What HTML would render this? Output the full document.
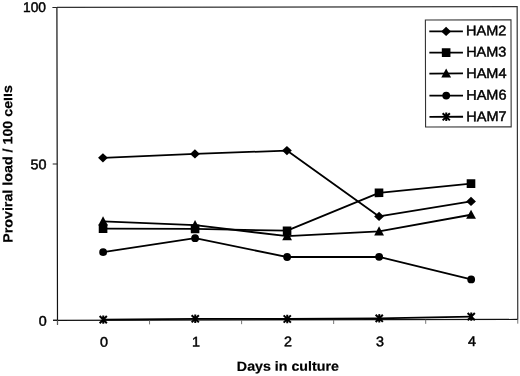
<!DOCTYPE html>
<html><head><meta charset="utf-8"><title>Proviral load</title>
<style>
html,body{margin:0;padding:0;background:#fff;}
body{width:520px;height:376px;overflow:hidden;}
svg{display:block;}
text{font-family:"Liberation Sans",Arial,Helvetica,sans-serif;fill:#000;}
.t{font-size:14px;stroke:#000;stroke-width:0.45px;}
.b{font-size:13.4px;font-weight:bold;stroke:#000;stroke-width:0.2px;}
</style></head><body>
<svg width="520" height="376" viewBox="0 0 520 376">
<rect width="520" height="376" fill="#fff"/>
<g transform="rotate(-0.11 287 188)">

<path d="M57.25 7H517.5V319.9" fill="none" stroke="#333" stroke-width="1.2"/>
<path d="M57.25 7V324.4M52.75 319.9H517.5" fill="none" stroke="#111" stroke-width="1.2"/>
<path d="M52.75 7H57.25" stroke="#222" stroke-width="1"/>
<path d="M52.75 163.45H57.25" stroke="#222" stroke-width="1"/>
<path d="M52.75 319.9H57.25" stroke="#222" stroke-width="1"/>
<path d="M57.25 319.9V324.1" stroke="#666" stroke-width="0.9"/>
<path d="M149.3 319.9V324.1" stroke="#666" stroke-width="0.9"/>
<path d="M241.35 319.9V324.1" stroke="#666" stroke-width="0.9"/>
<path d="M333.4 319.9V324.1" stroke="#666" stroke-width="0.9"/>
<path d="M425.45 319.9V324.1" stroke="#666" stroke-width="0.9"/>
<path d="M517.5 319.9V324.1" stroke="#666" stroke-width="0.9"/>
<text class="t" x="46.3" y="11.6" text-anchor="end" textLength="23" lengthAdjust="spacingAndGlyphs">100</text>
<text class="t" x="46.5" y="168.8" text-anchor="end" textLength="16" lengthAdjust="spacingAndGlyphs">50</text>
<text class="t" x="46.4" y="325.3" text-anchor="end" textLength="8" lengthAdjust="spacingAndGlyphs">0</text>
<text class="t" x="103.6" y="346.3" text-anchor="middle" textLength="8" lengthAdjust="spacingAndGlyphs">0</text>
<text class="t" x="195.6" y="346.3" text-anchor="middle" textLength="8" lengthAdjust="spacingAndGlyphs">1</text>
<text class="t" x="287.6" y="346.3" text-anchor="middle" textLength="8" lengthAdjust="spacingAndGlyphs">2</text>
<text class="t" x="379.6" y="346.3" text-anchor="middle" textLength="8" lengthAdjust="spacingAndGlyphs">3</text>
<text class="t" x="471.6" y="346.3" text-anchor="middle" textLength="8" lengthAdjust="spacingAndGlyphs">4</text>
<text class="b" x="287.5" y="370.8" text-anchor="middle" textLength="102" lengthAdjust="spacingAndGlyphs">Days in culture</text>
<text class="b" transform="translate(12.3 163.4) rotate(-90)" text-anchor="middle" textLength="157.8" lengthAdjust="spacingAndGlyphs">Proviral load / 100 cells</text>
<rect x="0" y="84" width="3.9" height="34" fill="#fff"/>
<polyline points="103,157.5 195,153.75 287,150.6 379,216.6 471,201.8" fill="none" stroke="#000" stroke-width="1.8" stroke-linejoin="round"/>
<path d="M98.1 157.5L103 152.9L107.9 157.5L103 162.1Z" fill="#000"/>
<path d="M190.1 153.75L195 149.15L199.9 153.75L195 158.35Z" fill="#000"/>
<path d="M282.1 150.6L287 146.0L291.9 150.6L287 155.2Z" fill="#000"/>
<path d="M374.1 216.6L379 212.0L383.9 216.6L379 221.2Z" fill="#000"/>
<path d="M466.1 201.8L471 197.2L475.9 201.8L471 206.4Z" fill="#000"/>
<polyline points="103,228.3 195,228.7 287,230.7 379,193.0 471,184.0" fill="none" stroke="#000" stroke-width="1.8" stroke-linejoin="round"/>
<rect x="98.7" y="224.0" width="8.6" height="8.6" fill="#000"/>
<rect x="190.7" y="224.4" width="8.6" height="8.6" fill="#000"/>
<rect x="282.7" y="226.4" width="8.6" height="8.6" fill="#000"/>
<rect x="374.7" y="188.7" width="8.6" height="8.6" fill="#000"/>
<rect x="466.7" y="179.7" width="8.6" height="8.6" fill="#000"/>
<polyline points="103,221 195,225 287,236.2 379,231.6 471,215.1" fill="none" stroke="#000" stroke-width="1.8" stroke-linejoin="round"/>
<path d="M103 215.9L107.9 225.1L98.1 225.1Z" fill="#000"/>
<path d="M195 219.9L199.9 229.1L190.1 229.1Z" fill="#000"/>
<path d="M287 231.1L291.9 240.3L282.1 240.3Z" fill="#000"/>
<path d="M379 226.5L383.9 235.7L374.1 235.7Z" fill="#000"/>
<path d="M471 210.0L475.9 219.2L466.1 219.2Z" fill="#000"/>
<polyline points="103,251.8 195,238.0 287,257 379,257.0 471,279.8" fill="none" stroke="#000" stroke-width="1.8" stroke-linejoin="round"/>
<circle cx="103" cy="251.8" r="3.9" fill="#000"/>
<circle cx="195" cy="238.0" r="3.9" fill="#000"/>
<circle cx="287" cy="257" r="3.9" fill="#000"/>
<circle cx="379" cy="257.0" r="3.9" fill="#000"/>
<circle cx="471" cy="279.8" r="3.9" fill="#000"/>
<polyline points="103,319.3 195,318.6 287,319.0 379,318.5 471,317.0" fill="none" stroke="#000" stroke-width="1.8" stroke-linejoin="round"/>
<path d="M99.4 315.7L106.6 322.9M106.6 315.7L99.4 322.9M103 315.1L103 323.5" stroke="#000" stroke-width="2" fill="none"/>
<path d="M191.4 315.0L198.6 322.2M198.6 315.0L191.4 322.2M195 314.4L195 322.8" stroke="#000" stroke-width="2" fill="none"/>
<path d="M283.4 315.4L290.6 322.6M290.6 315.4L283.4 322.6M287 314.8L287 323.2" stroke="#000" stroke-width="2" fill="none"/>
<path d="M375.4 314.9L382.6 322.1M382.6 314.9L375.4 322.1M379 314.3L379 322.7" stroke="#000" stroke-width="2" fill="none"/>
<path d="M467.4 313.4L474.6 320.6M474.6 313.4L467.4 320.6M471 312.8L471 321.2" stroke="#000" stroke-width="2" fill="none"/>
<rect x="425.7" y="20.3" width="85.6" height="107" fill="#fff" stroke="#333" stroke-width="1.1"/>
<path d="M429.6 31.7H463.2" stroke="#000" stroke-width="1.8"/>
<path d="M441.5 31.7L446.4 27.1L451.3 31.7L446.4 36.3Z" fill="#000"/>
<text class="t" x="466.4" y="35.7" textLength="40.3" lengthAdjust="spacingAndGlyphs">HAM2</text>
<path d="M429.6 52.9H463.2" stroke="#000" stroke-width="1.8"/>
<rect x="442.1" y="48.6" width="8.6" height="8.6" fill="#000"/>
<text class="t" x="466.4" y="56.9" textLength="40.3" lengthAdjust="spacingAndGlyphs">HAM3</text>
<path d="M429.6 73.8H463.2" stroke="#000" stroke-width="1.8"/>
<path d="M446.4 68.7L451.3 77.9L441.5 77.9Z" fill="#000"/>
<text class="t" x="466.4" y="78.4" textLength="40.3" lengthAdjust="spacingAndGlyphs">HAM4</text>
<path d="M429.6 95.9H463.2" stroke="#000" stroke-width="1.8"/>
<circle cx="446.4" cy="95.9" r="3.9" fill="#000"/>
<text class="t" x="466.4" y="100.0" textLength="40.3" lengthAdjust="spacingAndGlyphs">HAM6</text>
<path d="M429.6 117.1H463.2" stroke="#000" stroke-width="1.8"/>
<path d="M442.8 113.5L450.0 120.7M450.0 113.5L442.8 120.7M446.4 112.9L446.4 121.3" stroke="#000" stroke-width="2" fill="none"/>
<text class="t" x="466.4" y="121.5" textLength="40.3" lengthAdjust="spacingAndGlyphs">HAM7</text>
</g></svg></body></html>
